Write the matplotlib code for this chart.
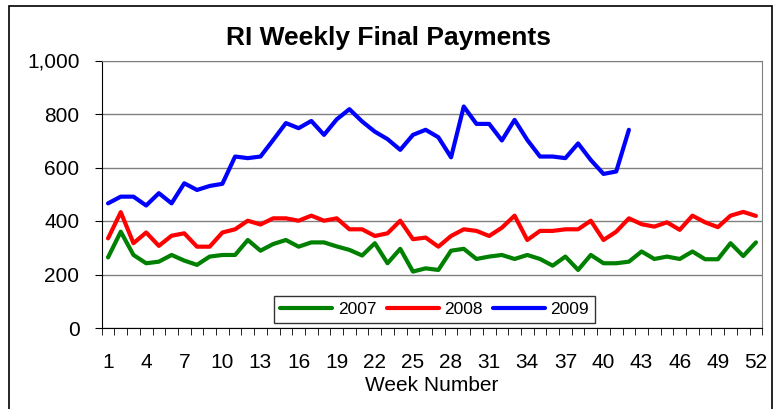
import numpy as np
import matplotlib
matplotlib.use("Agg")
import matplotlib.pyplot as plt
from matplotlib.patches import Rectangle

plt.rcParams['font.family'] = ['Liberation Sans', 'DejaVu Sans']

# weekly final payments
pay_2007 = [264, 360, 273, 242, 248, 273, 252, 236, 267, 273,
            273, 329, 289, 314, 329, 304, 320, 320, 305, 292,
            271, 317, 242, 296, 211, 223, 217, 289, 296, 258,
            267, 273, 258, 273, 258, 233, 267, 217, 273, 242,
            242, 248, 286, 258, 267, 258, 286, 257, 257, 317,
            269, 320]
pay_2008 = [335, 433, 317, 357, 307, 345, 354, 304, 304, 357,
            369, 401, 387, 410, 410, 401, 420, 401, 410, 369,
            369, 344, 354, 401, 332, 338, 304, 344, 369, 363,
            344, 375, 420, 329, 363, 363, 369, 369, 401, 329,
            360, 410, 388, 379, 395, 367, 420, 395, 377, 420,
            434, 419]
pay_2009 = [466, 491, 491, 458, 504, 466, 541, 516, 531, 539,
            641, 635, 641, 703, 766, 747, 774, 722, 780, 818,
            772, 734, 706, 666, 722, 741, 713, 638, 828, 763,
            763, 701, 778, 703, 641, 641, 635, 690, 628, 576,
            585, 741]

series = [("2007", pay_2007, "#008000"),
          ("2008", pay_2008, "#FF0000"),
          ("2009", pay_2009, "#0000FF")]

W, H = 781, 409
fig = plt.figure(figsize=(W / 100, H / 100), dpi=100)

# outer chart frame
fig.patches.append(Rectangle((9 / W, -0.05), 763 / W, 1.05 - 6 / H,
                             transform=fig.transFigure, fill=False,
                             edgecolor="black", linewidth=1.2))

ax = fig.add_axes([101.7 / W, 1 - 328 / H, 660.6 / W, 267.5 / H])

for name, vals, col in series:
    weeks = np.arange(1, len(vals) + 1)
    ax.plot(weeks, vals, color=col, lw=3, label=name, solid_capstyle="round")

ax.set_xlim(0.5, 52.5)
ax.set_ylim(0, 1000)

ax.set_yticks(np.arange(0, 1001, 200))
ax.set_yticklabels(["0", "200", "400", "600", "800", "1,000"])
ax.yaxis.grid(True, color="#808080", lw=1)
ax.set_axisbelow(True)

ax.set_xticks(np.arange(1, 53, 3))
ax.set_xticks(np.arange(0.5, 53, 1), minor=True)
ax.tick_params(axis="x", which="major", length=0, pad=18, labelsize=15)
ax.tick_params(axis="x", which="minor", length=5, direction="out", color="black")
ax.tick_params(axis="y", length=5, direction="out", pad=11, labelsize=15)

for s in ("top", "right"):
    ax.spines[s].set_color("#808080")
for s in ("left", "bottom"):
    ax.spines[s].set_color("black")

ax.set_xlabel("Week Number", fontsize=15, labelpad=3)
fig.text(389 / W, 1 - 38 / H, "RI Weekly Final Payments", ha="center", va="center",
         fontsize=19, fontweight="bold")

leg = ax.legend(loc="center", bbox_to_anchor=(434.5 / W, 1 - 309.5 / H),
                bbox_transform=fig.transFigure, ncol=3, fontsize=12.5,
                frameon=True, fancybox=False, edgecolor="black",
                handlelength=3.0, handletextpad=0.3, columnspacing=0.6,
                borderpad=0.35)
leg.get_frame().set_linewidth(1)

fig.savefig("out.png", dpi=100)
